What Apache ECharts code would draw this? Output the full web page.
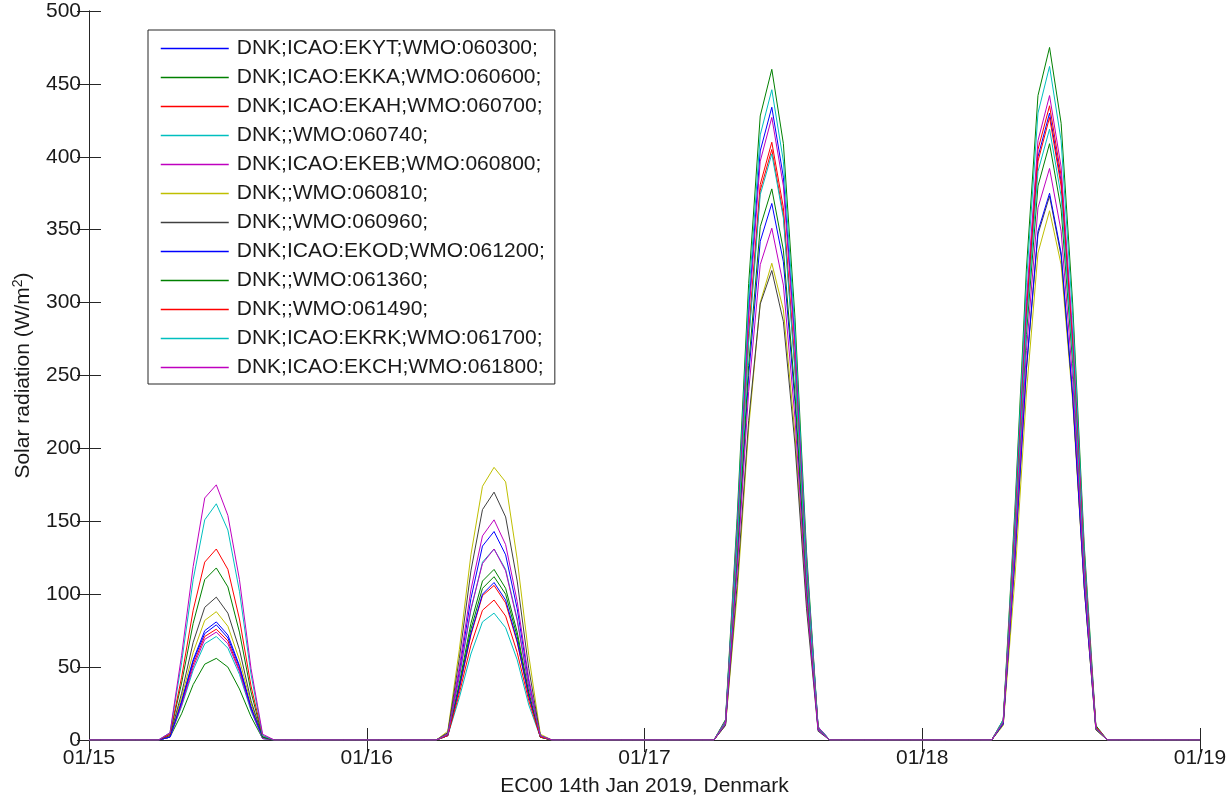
<!DOCTYPE html>
<html><head><meta charset="utf-8">
<script src="https://cdn.jsdelivr.net/npm/echarts@6/dist/echarts.min.js"></script>
<style>html,body{margin:0;padding:0;background:#fff}#c{width:1230px;height:799px}</style>
</head><body><div id="c"></div>
<script>
// ---------------- DATA ----------------
const stationNames = [
  'DNK;ICAO:EKYT;WMO:060300;',
  'DNK;ICAO:EKKA;WMO:060600;',
  'DNK;ICAO:EKAH;WMO:060700;',
  'DNK;;WMO:060740;',
  'DNK;ICAO:EKEB;WMO:060800;',
  'DNK;;WMO:060810;',
  'DNK;;WMO:060960;',
  'DNK;ICAO:EKOD;WMO:061200;',
  'DNK;;WMO:061360;',
  'DNK;;WMO:061490;',
  'DNK;ICAO:EKRK;WMO:061700;',
  'DNK;ICAO:EKCH;WMO:061800;'
];
const xTickLabels = ['01/15', '01/16', '01/17', '01/18', '01/19'];
const xAxisTitle = 'EC00 14th Jan 2019, Denmark';
const yAxisTitle = 'Solar radiation (W/m{sup|2})';
const hoursTotal = 96;              // 4 days, hourly steps
const dayStartHours = [0, 24, 48, 72];
const daylightHours = [7, 8, 9, 10, 11, 12, 13, 14, 15]; // UTC hour within day; all other hours are 0

// daylight values (W/m2) per day: 01/15, 01/16, 01/17, 01/18
const EKYT_060300 = [
  [2, 27, 55, 75, 81, 72, 51, 23, 2],
  [4, 47, 97, 133, 143, 127, 90, 40, 3],
  [13, 143, 295, 404, 434, 386, 273, 122, 9],
  [13, 142, 292, 400, 430, 383, 271, 120, 9]
];
const EKKA_060600 = [
  [2, 18, 38, 52, 56, 50, 35, 16, 1],
  [3, 37, 76, 104, 112, 100, 71, 31, 2],
  [14, 152, 313, 428, 460, 409, 290, 129, 9],
  [14, 157, 323, 442, 475, 423, 299, 133, 10]
];
const EKAH_060700 = [
  [2, 25, 52, 71, 76, 68, 48, 21, 2],
  [3, 35, 72, 99, 106, 94, 67, 30, 2],
  [12, 135, 279, 381, 410, 365, 258, 115, 8],
  [13, 144, 296, 405, 435, 387, 274, 122, 9]
];
const WMO_060740 = [
  [2, 23, 48, 66, 71, 63, 45, 20, 1],
  [3, 29, 59, 81, 87, 77, 55, 24, 2],
  [13, 147, 303, 415, 446, 397, 281, 125, 9],
  [14, 152, 314, 430, 462, 411, 291, 129, 9]
];
const EKEB_060800 = [
  [2, 24, 50, 69, 74, 66, 47, 21, 1],
  [5, 50, 103, 140, 151, 134, 95, 42, 3],
  [13, 141, 290, 397, 427, 380, 269, 120, 9],
  [13, 146, 301, 411, 442, 393, 278, 124, 9]
];
const WMO_060810 = [
  [3, 29, 60, 82, 88, 78, 55, 25, 2],
  [6, 62, 127, 174, 187, 177, 124, 58, 4],
  [10, 100, 214, 300, 327, 295, 210, 95, 7],
  [10, 110, 238, 334, 363, 326, 232, 104, 7]
];
const WMO_060960 = [
  [3, 32, 67, 91, 98, 87, 62, 27, 2],
  [5, 56, 116, 158, 170, 153, 109, 49, 3],
  [10, 106, 219, 299, 322, 287, 203, 90, 6],
  [11, 123, 254, 347, 373, 332, 235, 104, 7]
];
const EKOD_061200 = [
  [2, 26, 54, 73, 79, 70, 50, 22, 2],
  [3, 36, 73, 100, 108, 96, 68, 30, 2],
  [11, 121, 250, 342, 368, 328, 232, 103, 7],
  [11, 124, 255, 349, 375, 334, 236, 105, 8]
];
const WMO_061360 = [
  [4, 39, 80, 110, 118, 105, 74, 33, 2],
  [4, 39, 80, 109, 117, 104, 74, 33, 2],
  [11, 125, 257, 352, 378, 336, 238, 106, 8],
  [12, 135, 278, 380, 409, 364, 258, 115, 8]
];
const WMO_061490 = [
  [4, 43, 89, 122, 131, 117, 83, 37, 3],
  [3, 32, 65, 89, 96, 85, 60, 27, 2],
  [12, 134, 275, 377, 405, 360, 255, 113, 8],
  [13, 141, 290, 397, 427, 380, 269, 120, 9]
];
const EKRK_061700 = [
  [5, 53, 110, 151, 162, 144, 102, 45, 3],
  [4, 43, 89, 122, 131, 117, 83, 37, 3],
  [12, 133, 273, 374, 402, 358, 253, 113, 8],
  [13, 138, 285, 390, 419, 373, 264, 117, 8]
];
const EKCH_061800 = [
  [5, 58, 119, 166, 175, 154, 110, 49, 4],
  [4, 44, 90, 121, 131, 116, 82, 36, 3],
  [11, 116, 239, 326, 351, 312, 221, 98, 7],
  [12, 129, 267, 365, 392, 349, 247, 110, 8]
];
const stationValues = [EKYT_060300, EKKA_060600, EKAH_060700, WMO_060740, EKEB_060800, WMO_060810,
  WMO_060960, EKOD_061200, WMO_061360, WMO_061490, EKRK_061700, EKCH_061800];

// ---------------- STYLE ----------------
const lineColors = ['#0000ff', '#008000', '#ff0000', '#00bfbf', '#bf00bf', '#bfbf00', '#404040',
  '#0000ff', '#008000', '#ff0000', '#00bfbf', '#bf00bf'];
const FONT = "'Liberation Sans', Arial, sans-serif";
const TXT = '#1a1a1a';
const AXC = '#262626';

function buildSeriesData(days) {
  const out = [];
  for (let h = 0; h <= hoursTotal; h++) out.push([h, 0]);
  days.forEach((vals, d) => {
    daylightHours.forEach((hh, i) => { out[dayStartHours[d] + hh][1] = vals[i]; });
  });
  return out;
}

const series = stationNames.map((name, i) => ({
  name: name,
  type: 'line',
  data: buildSeriesData(stationValues[i]),
  symbol: 'none',
  showSymbol: false,
  color: lineColors[i],
  lineStyle: { width: 1, color: lineColors[i] },
  itemStyle: { color: lineColors[i] },
  emphasis: { disabled: true },
  silent: true,
  animation: false,
  xAxisIndex: 0,
  yAxisIndex: 0
}));

const tick = { show: true, inside: true, length: 12, lineStyle: { color: AXC, width: 1 } };
const axisLine = { show: true, lineStyle: { color: AXC, width: 1 } };
const chart = echarts.init(document.getElementById('c'), null, { renderer: 'canvas' });
chart.setOption({
  animation: false,
  backgroundColor: '#fff',
  grid: { left: 89, right: 30, top: 11, bottom: 59, containLabel: false, outerBoundsMode: 'none' },
  legend: {
    data: stationNames.map((n, i) => ({ name: n, lineStyle: { color: lineColors[i], width: 1.5 } })),
    orient: 'vertical',
    left: 148, top: 30,
    padding: [8, 10, 6, 12],
    itemWidth: 68, itemHeight: 21, itemGap: 8,
    borderColor: AXC, borderWidth: 1,
    backgroundColor: '#fff',
    selectedMode: false,
    itemStyle: { opacity: 0 },
    textStyle: { fontSize: 21, lineHeight: 21, height: 21, fontFamily: FONT, color: TXT, padding: [0, 0, 0, 3] }
  },
  xAxis: [{
    type: 'value', min: 0, max: hoursTotal, interval: 24,
    position: 'bottom',
    axisLine: axisLine, axisTick: tick,
    splitLine: { show: false },
    axisLabel: {
      fontSize: 21, fontFamily: FONT, color: TXT, margin: 8,
      formatter: v => xTickLabels[Math.round(v / 24)]
    },
    name: xAxisTitle, nameLocation: 'middle', nameGap: 36,
    nameTextStyle: { fontSize: 21, fontFamily: FONT, color: TXT }
  }, {
    type: 'value', min: 0, max: hoursTotal, interval: 24,
    position: 'top',
    axisLine: axisLine, axisTick: tick,
    splitLine: { show: false },
    axisLabel: { show: false }
  }],
  yAxis: [{
    type: 'value', min: 0, max: 500, interval: 50,
    position: 'left',
    axisLine: axisLine, axisTick: tick,
    splitLine: { show: false },
    axisLabel: { fontSize: 21, fontFamily: FONT, color: TXT, margin: 8 },
    name: yAxisTitle, nameLocation: 'middle', nameGap: 54, nameRotate: 90,
    nameTextStyle: {
      fontSize: 21, fontFamily: FONT, color: TXT,
      rich: { sup: { fontSize: 14, fontFamily: FONT, color: TXT, verticalAlign: 'top', padding: [0, 0, 10, 0] } }
    }
  }, {
    type: 'value', min: 0, max: 500, interval: 50,
    position: 'right',
    axisLine: axisLine, axisTick: tick,
    splitLine: { show: false },
    axisLabel: { show: false }
  }],
  series: series
});
</script>
</body></html>
